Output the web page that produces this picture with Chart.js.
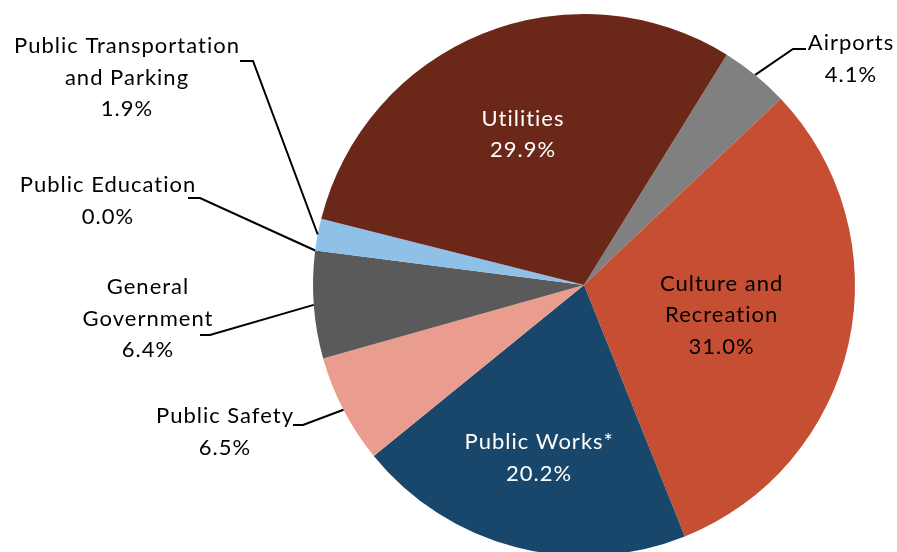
<!DOCTYPE html>
<html lang="en">
<head>
    <meta charset="UTF-8">
    <title>Expenditures by function</title>
    <script src="https://cdn.jsdelivr.net/npm/chart.js"></script>
    <style>
        html, body { margin: 0; padding: 0; background: #fff; overflow: hidden; }
        .chart-box { width: 897px; height: 556px; position: relative; }
    </style>
</head>
<body>
    <div class="chart-box">
        <canvas id="pieChart"></canvas>
    </div>

    <script>
        // Data (clockwise from the Airports slice)
        const categories = ['Airports', 'Culture and Recreation', 'Public Works*', 'Public Safety',
            'General Government', 'Public Education', 'Public Transportation and Parking', 'Utilities'];
        const shares = [4.1, 31.0, 20.2, 6.5, 6.4, 0.0, 1.9, 29.9];
        // how each category name wraps in its label
        const labelLines = [
            ['Airports'],
            ['Culture and', 'Recreation'],
            ['Public Works*'],
            ['Public Safety'],
            ['General', 'Government'],
            ['Public Education'],
            ['Public Transportation', 'and Parking'],
            ['Utilities']
        ];

        const sliceColors = ['#808080', '#C64F33', '#18476B', '#EA9D8F', '#5A5A5A', '#3D6FA8', '#8EC0E8', '#6B2718'];

        // label placement: inside labels sit at a fraction of the radius,
        // outside labels have a text box and a leader line (elbow + end)
        const labelPlace = [
            { x: 851, y: 43, elbow: [793, 49], end: [806, 49] },
            { inside: 0.52, color: '#000' },
            { inside: 0.66, color: '#fff' },
            { x: 225, y: 416, elbow: [303, 425], end: [293, 425] },
            { x: 148, y: 287, elbow: [210, 335], end: [200, 335] },
            { x: 108, y: 185, elbow: [200, 198], end: [188, 198] },
            { x: 127, y: 46, elbow: [253, 61], end: [240, 61] },
            { inside: 0.6, color: '#fff' }
        ];

        const FONT = '22px Lato, "Open Sans", sans-serif';
        const LINE_H = 31.5;

        const pieLabels = {
            id: 'pieLabels',
            afterDatasetsDraw(chart) {
                const ctx = chart.ctx;
                const arcs = chart.getDatasetMeta(0).data;
                ctx.save();
                ctx.font = FONT;
                ctx.letterSpacing = '1px';
                ctx.textAlign = 'center';
                ctx.textBaseline = 'middle';
                arcs.forEach((arc, i) => {
                    const p = labelPlace[i];
                    const lines = labelLines[i].concat([shares[i].toFixed(1) + '%']);
                    const mid = (arc.startAngle + arc.endAngle) / 2;
                    let tx, ty;
                    if (p.inside) {
                        const r = arc.outerRadius * p.inside;
                        const cx = arc.x + Math.cos(mid) * r;
                        const cy = arc.y + Math.sin(mid) * r;
                        tx = cx;
                        ty = cy - (lines.length - 1) * LINE_H / 2;
                        ctx.fillStyle = p.color;
                    } else {
                        // leader line from the rim to the label
                        const ax = arc.x + Math.cos(mid) * arc.outerRadius;
                        const ay = arc.y + Math.sin(mid) * arc.outerRadius;
                        ctx.strokeStyle = '#000';
                        ctx.lineWidth = 2;
                        ctx.beginPath();
                        ctx.moveTo(ax, ay);
                        ctx.lineTo(p.elbow[0], p.elbow[1]);
                        ctx.lineTo(p.end[0], p.end[1]);
                        ctx.stroke();
                        tx = p.x;
                        ty = p.y;
                        ctx.fillStyle = '#000';
                    }
                    lines.forEach((t, k) => ctx.fillText(t, tx, ty + k * LINE_H));
                });
                ctx.restore();
            }
        };

        const myChart = new Chart(document.getElementById('pieChart'), {
            type: 'pie',
            data: {
                labels: categories,
                datasets: [{
                    data: shares,
                    backgroundColor: sliceColors,
                    borderWidth: 0
                }]
            },
            options: {
                responsive: true,
                maintainAspectRatio: false,
                animation: false,
                rotation: 31.8,
                layout: { padding: { left: 313, right: 42, top: 14, bottom: 0 } },
                plugins: {
                    legend: { display: false },
                    tooltip: { enabled: false }
                }
            },
            plugins: [pieLabels]
        });
    </script>
</body>
</html>
